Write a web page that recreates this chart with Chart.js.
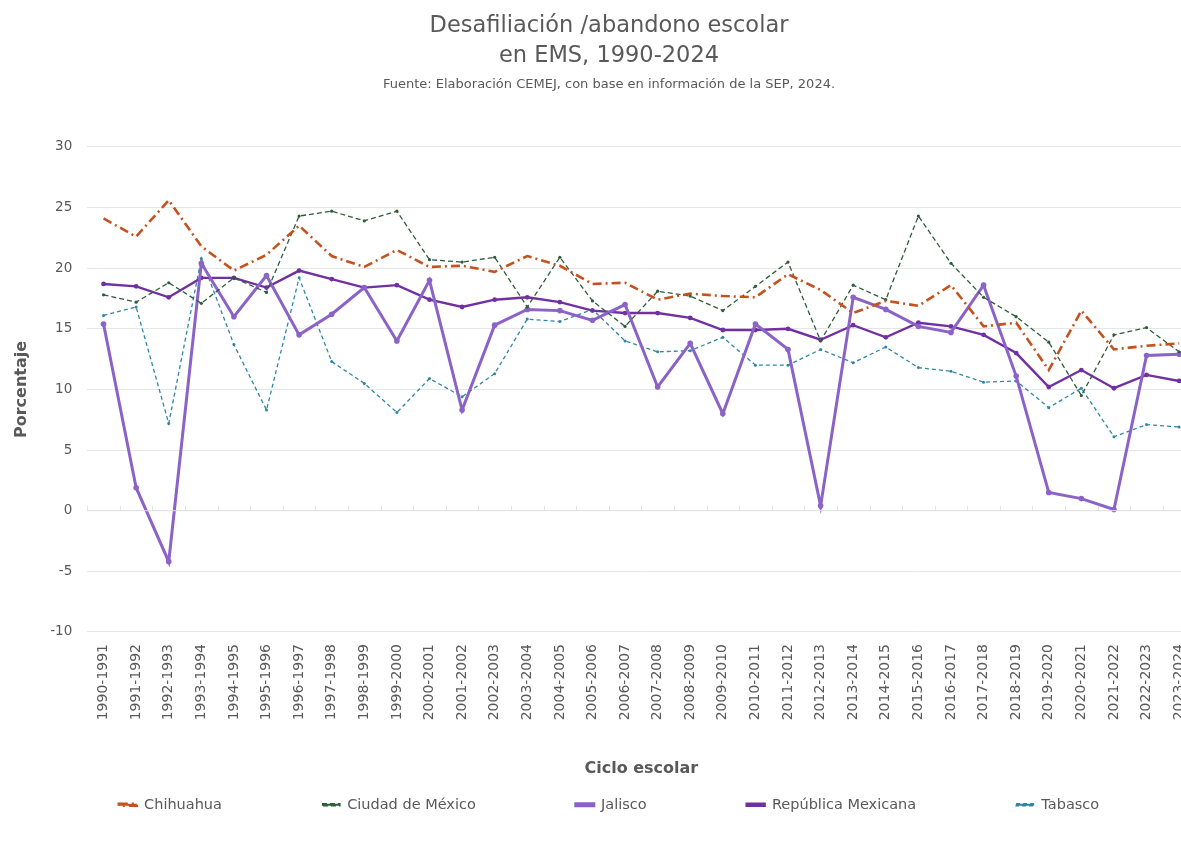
<!DOCTYPE html>
<html>
<head>
<meta charset="utf-8">
<script src="https://cdn.jsdelivr.net/npm/chart.js@4/dist/chart.umd.min.js"></script>
<style>
  html, body { margin: 0; padding: 0; background: #fff; overflow: hidden; }
  #wrap { width: 1181px; height: 842px; overflow: hidden; }
</style>
</head>
<body>
<div id="wrap"><canvas id="chart" width="1208" height="842"></canvas></div>
<script>
// school years
const ciclos = [
  '1990-1991','1991-1992','1992-1993','1993-1994','1994-1995','1995-1996','1996-1997','1997-1998',
  '1998-1999','1999-2000','2000-2001','2001-2002','2002-2003','2003-2004','2004-2005','2005-2006',
  '2006-2007','2007-2008','2008-2009','2009-2010','2010-2011','2011-2012','2012-2013','2013-2014',
  '2014-2015','2015-2016','2016-2017','2017-2018','2018-2019','2019-2020','2020-2021','2021-2022',
  '2022-2023','2023-2024'
];

const chihuahua = [24.1, 22.6, 25.6, 21.8, 19.8, 21.1, 23.5, 21.0, 20.1, 21.5, 20.1, 20.2, 19.7, 21.0, 20.2, 18.7,
  18.8, 17.4, 17.9, 17.7, 17.6, 19.5, 18.2, 16.3, 17.3, 16.9, 18.6, 15.2, 15.5, 11.6, 16.5, 13.3, 13.6, 13.8];

const cdmx = [17.8, 17.2, 18.8, 17.1, 19.2, 18.0, 24.3, 24.7, 23.9, 24.7, 20.7, 20.5, 20.9, 16.8, 20.9, 17.3,
  15.2, 18.1, 17.7, 16.5, 18.5, 20.5, 14.0, 18.6, 17.4, 24.3, 20.4, 17.6, 16.0, 13.9, 9.5, 14.5, 15.1, 13.1];

const jalisco = [15.4, 1.9, -4.2, 20.4, 16.0, 19.4, 14.5, 16.2, 18.4, 14.0, 19.0, 8.3, 15.3, 16.6, 16.5, 15.7,
  17.0, 10.2, 13.8, 8.0, 15.4, 13.3, 0.4, 17.6, 16.6, 15.2, 14.7, 18.6, 11.1, 1.5, 1.0, 0.1, 12.8, 12.9];

const republica = [18.7, 18.5, 17.6, 19.2, 19.2, 18.4, 19.8, 19.1, 18.4, 18.6, 17.4, 16.8, 17.4, 17.6, 17.2, 16.5,
  16.3, 16.3, 15.9, 14.9, 14.9, 15.0, 14.1, 15.3, 14.3, 15.5, 15.2, 14.5, 13.0, 10.2, 11.6, 10.1, 11.2, 10.7];

const tabasco = [16.1, 16.8, 7.2, 20.8, 13.7, 8.3, 19.2, 12.3, 10.5, 8.1, 10.9, 9.4, 11.3, 15.8, 15.6, 16.6,
  14.0, 13.1, 13.2, 14.3, 12.0, 12.0, 13.3, 12.2, 13.5, 11.8, 11.5, 10.6, 10.7, 8.5, 10.1, 6.1, 7.1, 6.9];

const yTicks = [-10, -5, 0, 5, 10, 15, 20, 25, 30];

const txt = '#595959';
const fam = '"DejaVu Sans", sans-serif';

function serie(label, data, color, width, dash, radius) {
  return {
    label, data,
    borderColor: color,
    backgroundColor: color,
    pointBackgroundColor: color,
    pointBorderColor: color,
    borderWidth: width,
    borderDash: dash,
    pointRadius: radius,
    pointBorderWidth: 0,
    tension: 0
  };
}

// wide gaps between legend entries, like the original
const gap = '\u2003\u2003\u2003\u2003\u2003\u2003';

// small tick marks along the zero line, between categories
const zeroTicks = {
  id: 'zeroTicks',
  afterDatasetsDraw(chart) {
    const { ctx, scales: { x, y } } = chart;
    const y0 = y.getPixelForValue(0);
    const half = (x.getPixelForValue(1) - x.getPixelForValue(0)) / 2;
    ctx.save();
    ctx.strokeStyle = '#e3e3e3';
    ctx.lineWidth = 1;
    ctx.beginPath();
    ctx.moveTo(x.left, y0);
    ctx.lineTo(x.right, y0);
    for (let i = 0; i <= ciclos.length; i++) {
      const px = Math.round(x.getPixelForValue(i) - half) + 0.5;
      ctx.moveTo(px, y0);
      ctx.lineTo(px, y0 - 5);
    }
    ctx.stroke();
    ctx.restore();
  }
};

new Chart(document.getElementById('chart'), {
  type: 'line',
  data: {
    labels: ciclos,
    datasets: [
      serie('Chihuahua', chihuahua, '#c4521f', 2.6, [9, 4, 2, 4], 0),
      serie('Ciudad de México', cdmx, '#2f5d3c', 1.3, [5, 3], 1.6),
      serie('Jalisco', jalisco, '#8b62c7', 3, [], 2.8),
      serie('República Mexicana', republica, '#7130a2', 2.4, [], 2.4),
      serie('Tabasco', tabasco, '#2f86a6', 1.3, [4, 3], 1.5)
    ]
  },
  plugins: [zeroTicks],
  options: {
    responsive: false,
    animation: false,
    layout: { padding: { left: 12, right: 2, top: 0, bottom: 20 } },
    plugins: {
      title: {
        display: true,
        text: ['Desafiliación /abandono escolar', 'en EMS, 1990-2024'],
        color: txt,
        font: { family: fam, size: 22.5, weight: 'normal', lineHeight: 1.34 },
        padding: { top: 11, bottom: 0 }
      },
      subtitle: {
        display: true,
        text: 'Fuente: Elaboración CEMEJ, con base en información de la SEP, 2024.',
        color: txt,
        font: { family: fam, size: 13 },
        padding: { top: 6, bottom: 54 }
      },
      legend: {
        position: 'bottom',
        labels: {
          color: txt,
          font: { family: fam, size: 14.5 },
          boxWidth: 18,
          boxHeight: 2,
          padding: 13,
          generateLabels: chart => {
            const items = Chart.defaults.plugins.legend.labels.generateLabels(chart);
            items.forEach((it, i) => { if (i < items.length - 1) it.text += gap; });
            return items;
          }
        }
      },
      tooltip: { enabled: false }
    },
    scales: {
      x: {
        offset: true,
        grid: { display: false, drawTicks: false },
        border: { display: false },
        ticks: {
          color: txt,
          font: { family: fam, size: 14 },
          maxRotation: 90,
          minRotation: 90,
          autoSkip: false,
          padding: 12
        },
        title: {
          display: true,
          text: 'Ciclo escolar',
          color: txt,
          font: { family: fam, size: 16, weight: 'bold' },
          padding: { top: 27, bottom: 6 }
        }
      },
      y: {
        min: -10,
        max: 30,
        afterBuildTicks: axis => { axis.ticks = yTicks.map(v => ({ value: v })); },
        grid: { color: '#e6e6e6', lineWidth: 1, drawTicks: false },
        border: { display: false },
        ticks: {
          color: txt,
          font: { family: fam, size: 13.5 },
          padding: 15
        },
        title: {
          display: true,
          text: 'Porcentaje',
          color: txt,
          font: { family: fam, size: 16, weight: 'bold' },
          padding: { top: 0, bottom: 4 }
        }
      }
    }
  }
});
</script>
</body>
</html>
